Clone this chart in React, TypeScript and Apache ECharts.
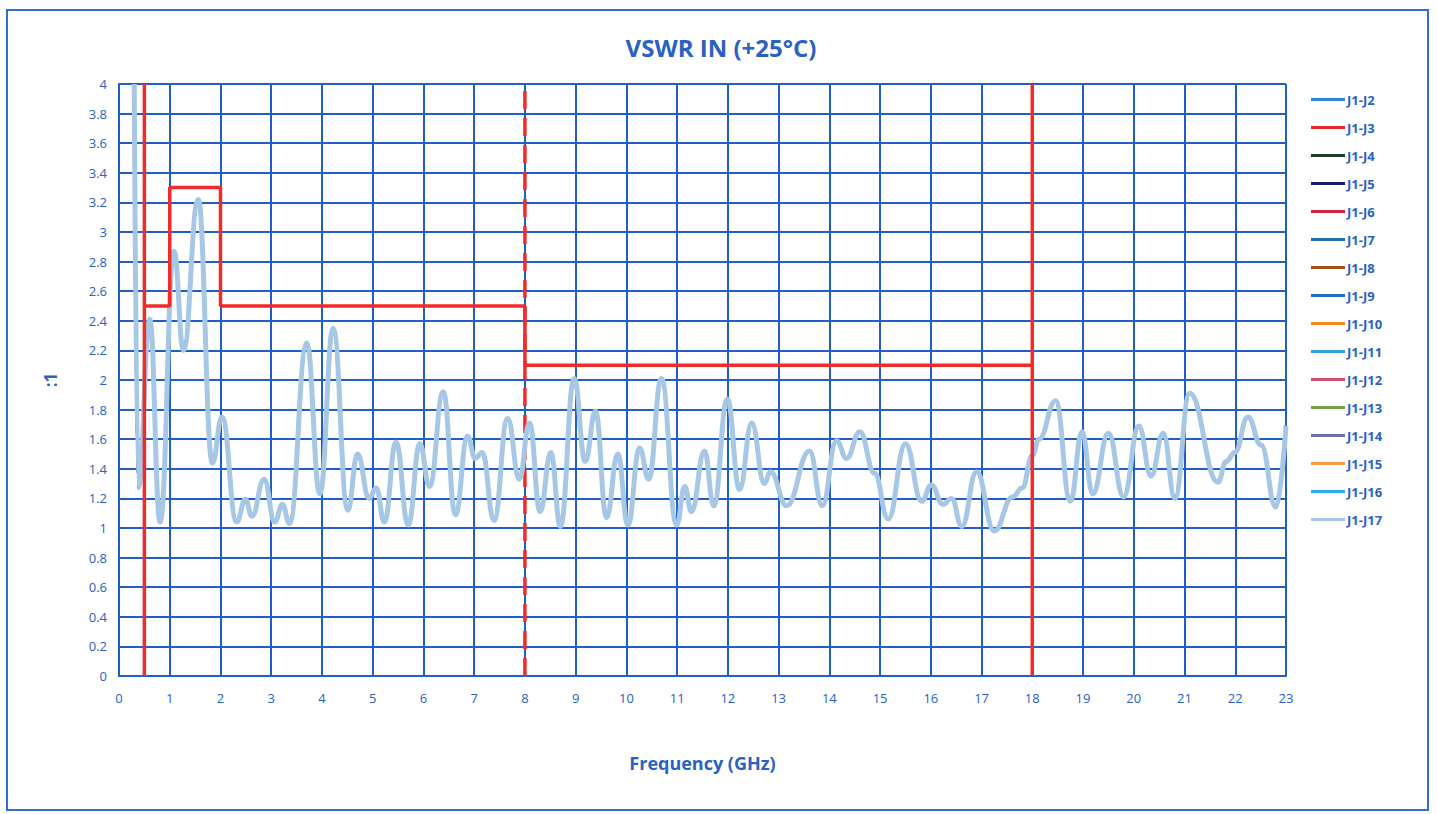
import React, { useEffect, useRef } from "react";
import * as echarts from "echarts";

// Frequency (GHz) and VSWR readings of the measured traces (all overlap, J1-J17 drawn on top)
const freqGHz = [0.3, 0.38, 0.605, 0.81, 1.085, 1.27, 1.56, 1.84, 2.03, 2.32, 2.49, 2.62, 2.86, 3.07, 3.22, 3.36, 3.7, 3.96, 4.22, 4.51, 4.7, 4.93, 5.07, 5.23, 5.46, 5.7, 5.93, 6.12, 6.39, 6.63, 6.87, 7.02, 7.16, 7.39, 7.66, 7.89, 8.09, 8.3, 8.51, 8.7, 8.97, 9.19, 9.39, 9.61, 9.83, 10.03, 10.26, 10.44, 10.69, 10.99, 11.15, 11.28, 11.54, 11.72, 11.99, 12.23, 12.47, 12.72, 12.84, 13.16, 13.61, 13.86, 14.14, 14.34, 14.6, 14.89, 15.16, 15.5, 15.82, 16.01, 16.24, 16.41, 16.61, 16.9, 17.25, 17.61, 17.8, 18.0, 18.13, 18.46, 18.75, 18.98, 19.19, 19.5, 19.8, 20.1, 20.34, 20.58, 20.81, 21.1, 21.66, 21.82, 21.99, 22.25, 22.51, 22.8, 23.0];
const vswr = [4.0, 1.27, 2.41, 1.04, 2.87, 2.2, 3.22, 1.44, 1.75, 1.04, 1.195, 1.08, 1.33, 1.04, 1.16, 1.03, 2.25, 1.23, 2.35, 1.12, 1.5, 1.2, 1.27, 1.04, 1.58, 1.02, 1.57, 1.28, 1.92, 1.09, 1.62, 1.47, 1.51, 1.05, 1.74, 1.33, 1.71, 1.11, 1.51, 1.01, 2.01, 1.45, 1.79, 1.07, 1.5, 1.02, 1.54, 1.33, 2.01, 1.02, 1.28, 1.11, 1.52, 1.15, 1.87, 1.26, 1.71, 1.3, 1.38, 1.15, 1.52, 1.15, 1.59, 1.47, 1.65, 1.37, 1.06, 1.57, 1.18, 1.29, 1.16, 1.2, 1.01, 1.38, 0.98, 1.21, 1.27, 1.49, 1.6, 1.86, 1.18, 1.65, 1.23, 1.64, 1.21, 1.69, 1.35, 1.64, 1.2, 1.91, 1.31, 1.45, 1.51, 1.75, 1.56, 1.14, 1.69];

// Spec limit (step line) and band markers
const limitStepX = [0.5, 1, 1, 2, 2, 8, 8, 18];
const limitStepY = [2.5, 2.5, 3.3, 3.3, 2.5, 2.5, 2.1, 2.1];
const solidMarkerX = [0.5, 18];
const dashedMarkerX = [8];
const markerY = [0, 4];

const seriesNames = ["J1-J2", "J1-J3", "J1-J4", "J1-J5", "J1-J6", "J1-J7", "J1-J8", "J1-J9", "J1-J10", "J1-J11", "J1-J12", "J1-J13", "J1-J14", "J1-J15", "J1-J16", "J1-J17"];
const seriesColors = ["#2f86d8", "#e8262a", "#1f3d1f", "#1a1a6e", "#d4213d", "#1f6fb5", "#a0521e", "#1f6fc8", "#f08a1c", "#39a0e0", "#d0506a", "#7aa04a", "#7070b0", "#f59a4a", "#2ab0e8", "#a7c7e7"];

const xTicks = { min: 0, max: 23, interval: 1 };
const yTicks = { min: 0, max: 4, interval: 0.2 };

const BLUE = "#2a62c4";
const GRIDBLUE = "#1f5fc8";
const RED = "#f22a2a";

export default function App() {
  const ref = useRef<HTMLDivElement>(null);
  useEffect(() => {
    if (!ref.current) return;
    const chart = echarts.init(ref.current, undefined, { renderer: "svg" });
    const trace = freqGHz.map((f, i) => [f, vswr[i]]);
    const traceSeries = seriesNames.map((name, i) => {
      const last = i === seriesNames.length - 1;
      return {
        name,
        type: "line",
        data: trace,
        symbol: "none",
        smooth: 0.45,
        smoothMonotone: "x",
        z: last ? 5 : 3,
        lineStyle: { color: seriesColors[i], width: last ? 5 : 3 },
        itemStyle: { color: seriesColors[i] },
      };
    });
    const limitSeries: any[] = [
      {
        name: "limit",
        type: "line",
        data: limitStepX.map((x, i) => [x, limitStepY[i]]),
        symbol: "none",
        z: 6,
        lineStyle: { color: RED, width: 3.5 },
      },
      ...solidMarkerX.map((x) => ({
        name: "limit",
        type: "line",
        data: markerY.map((y) => [x, y]),
        symbol: "none",
        z: 6,
        lineStyle: { color: RED, width: 3.5 },
      })),
      ...dashedMarkerX.map((x) => ({
        name: "limit",
        type: "line",
        data: markerY.map((y) => [x, y]),
        symbol: "none",
        z: 4,
        lineStyle: { color: RED, width: 3.5, type: [18, 9] },
      })),
    ];
    chart.setOption({
      animation: false,
      backgroundColor: "#ffffff",
      title: {
        text: "VSWR IN (+25°C)",
        left: 716,
        top: 30,
        textAlign: "center",
        textStyle: { color: BLUE, fontSize: 24, fontWeight: "bold", fontFamily: "Open Sans" },
      },
      graphic: [
        {
          type: "rect",
          shape: { x: 7, y: 10, width: 1421, height: 800 },
          style: { fill: "none", stroke: "#2f6fd0", lineWidth: 2 },
          silent: true,
        },
      ],
      legend: {
        data: seriesNames,
        orient: "vertical",
        left: 1306,
        top: 88,
        icon: "rect",
        itemWidth: 34,
        itemHeight: 3,
        itemGap: 15,
        textStyle: { color: BLUE, fontSize: 13, fontWeight: "bold", fontFamily: "Open Sans", padding: [0, 0, 0, -3] },
      },
      grid: { left: 119, right: 151, top: 84, bottom: 138, containLabel: false },
      xAxis: {
        type: "value",
        ...xTicks,
        name: "Frequency (GHz)",
        nameLocation: "middle",
        nameGap: 78,
        nameTextStyle: { color: BLUE, fontSize: 18, fontWeight: "bold", fontFamily: "Open Sans" },
        axisLine: { show: true, lineStyle: { color: GRIDBLUE, width: 2 } },
        axisTick: { show: false },
        axisLabel: { color: BLUE, fontSize: 13, margin: 15, fontFamily: "Open Sans" },
        splitLine: { show: true, lineStyle: { color: GRIDBLUE, width: 2 } },
      },
      yAxis: {
        type: "value",
        ...yTicks,
        name: ":1",
        nameLocation: "middle",
        nameGap: 60,
        nameRotate: 90,
        nameTextStyle: { color: BLUE, fontSize: 17, fontWeight: "bold", fontFamily: "Open Sans" },
        axisLine: { show: true, lineStyle: { color: GRIDBLUE, width: 2 } },
        axisTick: { show: false },
        axisLabel: {
          color: BLUE,
          fontSize: 13,
          margin: 12,
          fontFamily: "Open Sans",
          formatter: (v: number) => String(+v.toFixed(1)),
        },
        splitLine: { show: true, lineStyle: { color: GRIDBLUE, width: 2 } },
      },
      series: [...traceSeries, ...limitSeries],
    });
    return () => chart.dispose();
  }, []);
  return (
    <div
      ref={ref}
      style={{ position: "fixed", left: 0, top: 0, width: 1437, height: 814, background: "#fff" }}
    />
  );
}
